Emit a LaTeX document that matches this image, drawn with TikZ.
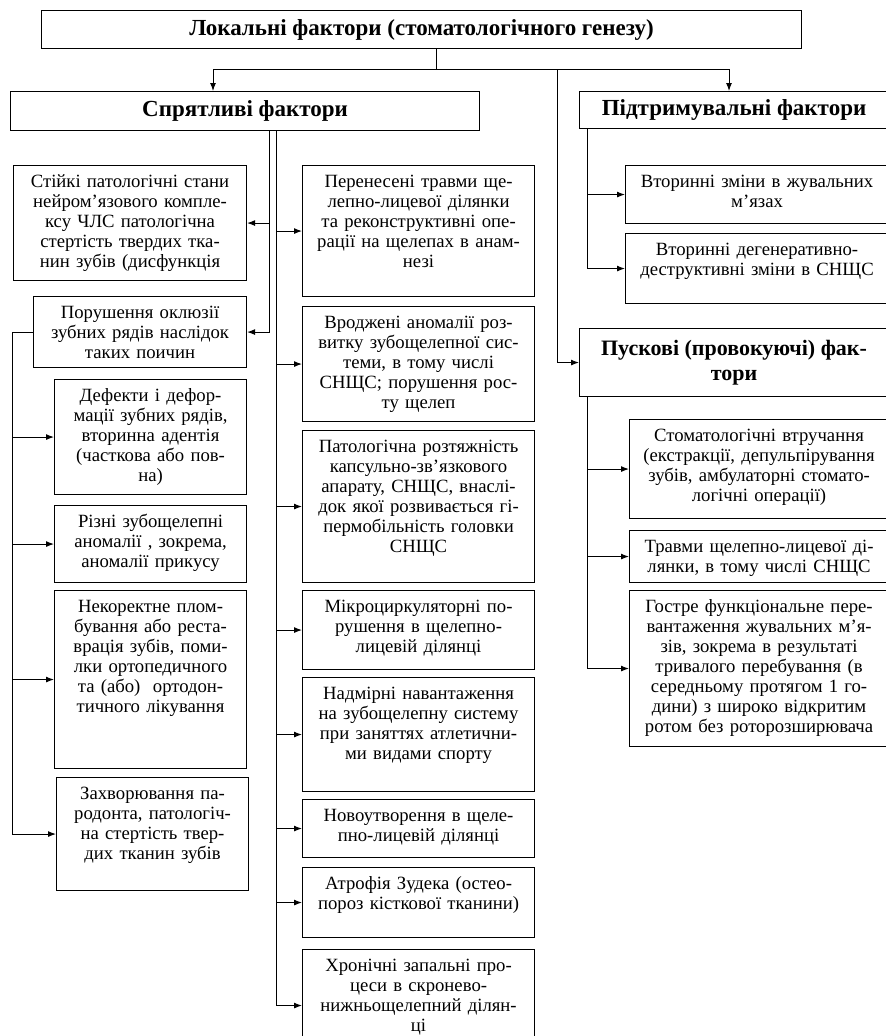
\documentclass[tikz,border=0pt]{standalone}
\usepackage{fontspec}
\setmainfont{Liberation Serif}
\usetikzlibrary{arrows.meta}

\begin{document}
\begin{tikzpicture}[
    x=1pt, y=-1pt,
    box/.style={rectangle, draw, line width=1.1pt, anchor=north west, align=center, inner xsep=3pt, inner ysep=0pt, text height=22pt, font=\fontsize{18.7}{20}\selectfont},
    headbox/.style={rectangle, draw, line width=1.1pt, anchor=north west, align=center, inner sep=0pt, font=\bfseries\fontsize{23}{25}\selectfont},
    arrow/.style={-{Latex[length=8pt, width=6pt]}, line width=1pt},
    link/.style={line width=1pt}
]
\useasboundingbox (0,0) rectangle (886,1036);

% Headings
\node[headbox, minimum width=760pt, minimum height=38pt] (top) at (41,10) {Локальні фактори (стоматологічного генезу)};
\node[headbox, minimum width=469pt, minimum height=39pt] (sprl) at (10,91) {Спрятливі фактори};
\node[headbox, minimum width=309pt, minimum height=37pt] (pidt) at (579,91) {Підтримувальні фактори};
\node[headbox, minimum width=309pt, minimum height=68pt, font=\bfseries\fontsize{22}{25}\selectfont] (pusk) at (579,328) {Пускові (провокуючі) фак-\\тори};

% Left column
\node[box, text width=227pt, text depth=93pt] (stiiki) at (13,165) {Стійкі патологічні стани\\нейром’язового компле-\\ксу ЧЛС патологічна\\стертість твердих тка-\\нин зубів (дисфункція};
\node[box, text width=207pt, text depth=49pt] (porush) at (33,296) {Порушення оклюзії\\зубних рядів наслідок\\таких поичин};
\node[box, text width=186pt, text depth=93pt] (defekty) at (54,379) {Дефекти і дефор-\\мації зубних рядів,\\вторинна адентія\\(часткова або пов-\\на)};
\node[box, text width=186pt, text depth=55pt] (rizni) at (54,505) {Різні зубощелепні\\аномалії , зокрема,\\аномалії прикусу};
\node[box, text width=186pt, text depth=156pt] (nekor) at (54,590) {Некоректне плом-\\бування або реста-\\врація зубів, поми-\\лки ортопедичного\\та (або)~ ортодон-\\тичного лікування};
\node[box, text width=186pt, text depth=91pt] (zakhv) at (56,777) {Захворювання па-\\родонта, патологіч-\\на стертість твер-\\дих тканин зубів};

% Middle column
\node[box, text width=226pt, text depth=109pt] (perenes) at (302,165) {Перенесені травми ще-\\лепно-лицевої ділянки\\та реконструктивні опе-\\рації на щелепах в анам-\\незі};
\node[box, text width=226pt, text depth=93pt] (vrodzh) at (302,306) {Вроджені аномалії роз-\\витку зубощелепної сис-\\теми, в тому числі\\СНЩС; порушення рос-\\ту щелеп};
\node[box, text width=226pt, text depth=130pt] (patol) at (302,430) {Патологічна розтяжність\\капсульно-зв’язкового\\апарату, СНЩС, внаслі-\\док якої розвивається гі-\\пермобільність головки\\СНЩС};
\node[box, text width=226pt, text depth=57pt] (mikro) at (302,590) {Мікроциркуляторні по-\\рушення в щелепно-\\лицевій ділянці};
\node[box, text width=226pt, text depth=92pt] (nadmir) at (302,677) {Надмірні навантаження\\на зубощелепну систему\\при заняттях атлетични-\\ми видами спорту};
\node[box, text width=226pt, text depth=36pt] (novoutv) at (302,799) {Новоутворення в щеле-\\пно-лицевій ділянці};
\node[box, text width=226pt, text depth=48pt] (atrof) at (302,867) {Атрофія Зудека (остео-\\пороз кісткової тканини)};
\node[box, text width=226pt, text depth=90pt] (khron) at (302,949) {Хронічні запальні про-\\цеси в скронево-\\нижньощелепний ділян-\\ці};

% Right column
\node[box, text width=257pt, text depth=36pt] (vtor1) at (625,165) {Вторинні зміни в жувальних\\м’язах};
\node[box, text width=257pt, text depth=48pt] (vtor2) at (625,233) {Вторинні дегенеративно-\\деструктивні зміни в СНЩС};
\node[box, text width=253pt, text depth=77pt] (stomat) at (629,419) {Стоматологічні втручання\\(екстракції, депульпірування\\зубів, амбулаторні стомато-\\логічні операції)};
\node[box, text width=253pt, text depth=30pt] (travmy) at (629,530) {Травми щелепно-лицевої ді-\\лянки, в тому числі СНЩС};
\node[box, text width=253pt, text depth=134pt] (gostre) at (629,590) {Гостре функціональне пере-\\вантаження жувальних м’я-\\зів, зокрема в результаті\\тривалого перебування (в\\середньому протягом 1 го-\\дини) з широко відкритим\\ротом без роторозширювача};

% Connections
\coordinate (hub) at (436,69);
\coordinate (hubl) at (213,69);
\coordinate (hubm) at (557,69);
\coordinate (hubr) at (729,69);
\draw[link] (hub |- top.south) -- (hub);
\draw[arrow] (hub) -- (hubl) -- (hubl |- sprl.north);
\draw[arrow] (hub) -- (hubr) -- (hubr |- pidt.north);
\draw[arrow] (hubm) |- (pusk.west);

\coordinate (sl) at (269,0);
\coordinate (sr) at (276,0);
\draw[arrow] (sl |- sprl.south) |- (porush.east);
\draw[arrow] (sl |- stiiki.east) -- (stiiki.east);
\draw[link] (sr |- sprl.south) -- (sr |- khron.west);
\foreach \n in {perenes, vrodzh, patol, mikro, nadmir, novoutv, atrof, khron}
    \draw[arrow] (sr |- \n.west) -- (\n.west);

\coordinate (pl) at (12,0);
\draw[link] (porush.west) -- (pl |- porush.west) -- (pl |- zakhv.west);
\foreach \n in {defekty, rizni, nekor, zakhv}
    \draw[arrow] (pl |- \n.west) -- (\n.west);

\coordinate (rl) at (587,0);
\draw[link] (rl |- pidt.south) -- (rl |- vtor2.west);
\draw[link] (rl |- pusk.south) -- (rl |- gostre.west);
\foreach \n in {vtor1, vtor2, stomat, travmy, gostre}
    \draw[arrow] (rl |- \n.west) -- (\n.west);

\end{tikzpicture}
\end{document}
